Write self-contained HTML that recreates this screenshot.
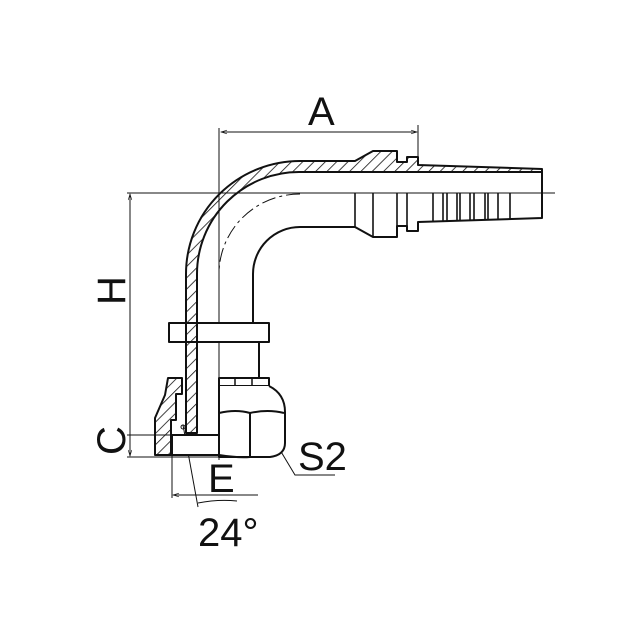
<!DOCTYPE html>
<html><head><meta charset="utf-8"><style>
html,body{margin:0;padding:0;background:#fff;}
svg{display:block;}
text{font-family:"Liberation Sans",sans-serif;fill:#111;}
</style></head><body>
<svg width="630" height="630" viewBox="0 0 630 630" xmlns="http://www.w3.org/2000/svg">
<defs>
<pattern id="h" patternUnits="userSpaceOnUse" width="8" height="8" patternTransform="rotate(45)">
<line x1="0" y1="0" x2="0" y2="8" stroke="#111" stroke-width="1.6"/>
</pattern>
<marker id="ar" viewBox="0 0 10 10" refX="10" refY="5" markerWidth="8" markerHeight="6" orient="auto-start-reverse">
<path d="M0 2 L10 5 L0 8" fill="none" stroke="#111" stroke-width="1"/>
</marker>
</defs>
<g fill="none" stroke="#111" stroke-width="1">
<line x1="127" y1="193" x2="555" y2="193"/>
<line x1="219" y1="128" x2="219" y2="460"/>
<path d="M300 194 A81 80 0 0 0 219 274 V433" stroke-dasharray="14 4 3 4"/>
<line x1="418" y1="125" x2="418" y2="157"/>
<line x1="221" y1="132" x2="417" y2="132" marker-start="url(#ar)" marker-end="url(#ar)"/>
<line x1="130" y1="194" x2="130" y2="456" marker-start="url(#ar)" marker-end="url(#ar)"/>
<line x1="127" y1="457" x2="219" y2="457"/>
<line x1="127" y1="435" x2="172" y2="435"/>
<line x1="172" y1="455" x2="172" y2="498"/>
<line x1="173" y1="495" x2="258" y2="495" marker-start="url(#ar)"/>
<line x1="183" y1="425" x2="198" y2="507"/>
<path d="M198 503 Q218 499 237 501"/>
<circle cx="183" cy="427" r="2"/>
<polyline points="274,440 295,475 335,475"/>
</g>
<g stroke="#111" stroke-width="2" stroke-linejoin="round" fill="none">
<path d="M186 433 V274 A114 113 0 0 1 300 161 H355 L373 151 H397 V162 H407 V157 H418 V165 L542 169 V172 H300 A102 102 0 0 0 197 274 V433 Z" fill="url(#h)"/>
<path d="M253 323 V274 A47 47 0 0 1 300 227 H355 L373 237 H397 V226 H407 V231 H418 V222 L542 218 V169"/>
<g stroke-width="1.6">
<line x1="355" y1="193" x2="355" y2="227"/>
<line x1="373" y1="193" x2="373" y2="237"/>
<line x1="397" y1="193" x2="397" y2="237"/>
<line x1="407" y1="193" x2="407" y2="231"/>
<line x1="433" y1="193" x2="433" y2="222"/>
<line x1="443" y1="193" x2="443" y2="222"/>
<line x1="447" y1="193" x2="447" y2="222"/>
<line x1="457" y1="193" x2="457" y2="221"/>
<line x1="460" y1="193" x2="460" y2="221"/>
<line x1="470" y1="193" x2="470" y2="221"/>
<line x1="474" y1="193" x2="474" y2="221"/>
<line x1="485" y1="193" x2="485" y2="220"/>
<line x1="488" y1="193" x2="488" y2="220"/>
<line x1="498" y1="193" x2="498" y2="220"/>
<line x1="510" y1="193" x2="510" y2="220"/>
</g>
<path d="M169 323 H269 V342 H169 Z" fill="#fff"/>
<path d="M186 323 V342 H197 V323 Z" fill="url(#h)"/>
<line x1="259" y1="342" x2="259" y2="378"/>
<rect x="219" y="378" width="50" height="8" fill="#fff"/>
<g stroke-width="1.5"><line x1="235" y1="378" x2="235" y2="386"/><line x1="252" y1="378" x2="252" y2="386"/></g>
<path d="M269 386 Q285 394 285 412 V443 Q285 455 270 457 H219 V386" fill="#fff"/>
<path d="M219 413 Q236 409 250 413 Q268 409 284 413 M250 413 V457 M250 457 Q238 458 219 455"/>
<path d="M168 378 H182 V394 H176 V420 H171 V455 H155 V418 L165 395 Z" fill="url(#h)"/>
<path d="M172 435 H219 V455 H172 Z" fill="#fff"/>
<path d="M186 433 H197"/>
</g>
<text x="308" y="125" font-size="40">A</text>
<text x="0" y="0" font-size="40" transform="translate(125,305) rotate(-90)">H</text>
<text x="0" y="0" font-size="40" transform="translate(125,455) rotate(-90)">C</text>
<text x="208" y="492" font-size="40">E</text>
<text x="298" y="470" font-size="40">S2</text>
<text x="198" y="546" font-size="40">24°</text>
</svg>
</body></html>
